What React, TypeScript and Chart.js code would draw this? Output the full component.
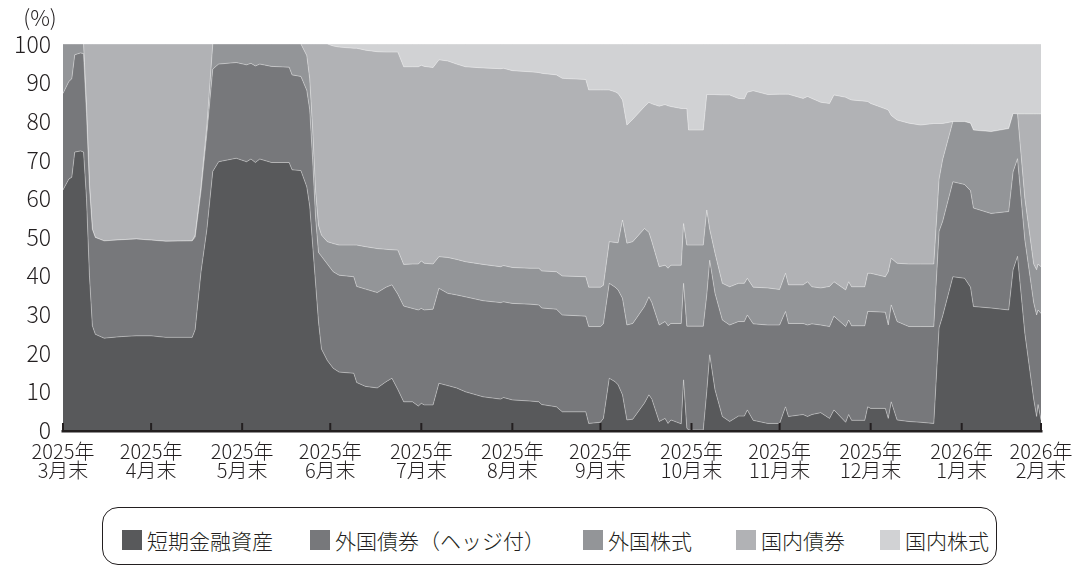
import React, { useEffect, useRef } from "react";
import { Chart, registerables } from "chart.js";

Chart.register(...registerables);

// day index: 0 = 2025-03-31, 333 = 2026-02-27
const days = [0,2,3,4,6,7,8,9,10,11,
  14,20,25,30,35,44,45,47,49,51,
  53,59,62.5,64,65.5,67,71,77,78,81,
  83,84,85,86,87,88,90,92,94,99,
  100,103,107,110,112,114,116,119,121,122,
  123,126,128,131,134,137,143,149,150,153,
  159,162,163,168,170,178,179,183,184,186,
  188,189,190.5,192,194,198,199.5,200.5,203,205,
  206,207,210.5,211.3,212.4,213,218,219.2,220.2,222,
  224.5,227,230,232,233,235,240,244,246,247,
  252,253.5,255,258,261,262.5,266.5,267.5,268.5,273,
  274,275,280,281,282,284,288,292,296.5,298.3,
  299.5,303,307,309,310,316,322,323.5,325,327.5,
  330.5,331.5,332,333];

const shortTerm = [62.2,65,65.5,72,72.3,72,60,40,27,24.8,
  23.8,24.2,24.4,24.4,24,24,26,41,52,67,
  69.5,70.4,69.5,70.2,69.3,70.2,69.3,69.3,67.4,67.2,
  63,58,48,38,28,21,18,16,15,14.7,
  12.3,11.3,10.9,12.5,13.4,10.5,7.3,7.3,6.2,6.9,
  6.5,6.5,12.1,11.5,10.9,9.9,8.6,8,8.4,7.8,
  7.5,7.3,6.6,6,4.7,4.7,1.7,2,3,13.4,
  12.5,11.7,9.1,2.6,2.8,7,9.1,8,2.2,3,
  1.7,2.6,1.6,13,0.5,0,0,10,19.5,10.4,
  3.5,2.2,3.6,3.6,5.2,2.5,1.7,1.7,6,3.5,
  4,3.5,4,4.5,3,5.2,2,4,2.5,2.5,
  6,5.6,5.6,3,7.3,2.6,2.2,2,1.7,26.5,
  29.5,39.7,39.3,37,32,31.6,31.1,41.5,45,25,
  8,3.5,6.6,2.6];

const foreignBondHedged = [25,25.3,25.5,25.2,25.4,25.5,22,23,25,25.1,
  25.2,25.1,25.1,24.8,24.9,25,24,21,25,26.5,
  25.3,24.8,25.1,24.8,25,24.6,24.9,24.7,24.6,24.4,
  25,25,22,17,18,24,25,25,25.1,25,
  24.9,25.2,24.7,24.5,24.2,24.7,24.8,24.2,24.9,24.6,
  24.6,24.8,24.6,23.9,24.1,24.6,24.9,25,24.8,25,
  25.1,25.1,25,25.3,25.1,24.8,25.1,24.8,24.5,24.6,
  24.5,24.6,25,24.6,24.8,25,25.4,25,25,25.1,
  25.3,25,26,25,26.4,26.9,26.9,25,24.5,25,
  25,25,24.5,24.5,24.6,25,25.5,25.5,24.7,24.1,
  23.6,23.7,23.5,22.7,23.8,24.3,24.8,24.5,24.5,24.5,
  24.7,25.1,24.9,24.2,25.1,25.5,24.6,24.8,25.1,25,
  24.5,24.6,24.3,25,25.5,24.5,25.5,25.4,25.3,24.2,
  25,26.3,24.5,27.6];

const foreignEquity = [12.8,9.7,9,2.8,2.3,2.5,2,1,0,0,
  0,0,0,0,0,0,0.5,1,2,6.5,
  5.2,4.8,5.4,5,5.7,5.2,5.8,6,8,8.4,
  9,8,8,7,7,5.5,5.8,7.3,7.8,8.2,
  10.7,11,11.4,9.8,9.1,11.4,10.8,11.5,11.9,12.3,
  12.1,11.7,8.2,9.3,9.2,9.1,9.4,9.3,9.4,9.3,
  9.3,9.5,9.6,9.7,10.1,10.2,10.2,10.2,10,10.8,
  11.6,12.2,20.3,21.2,21.2,20.2,16.7,15.8,15.1,14.6,
  14.9,15.1,15.1,15.5,21,21,21,22,8,10.4,
  9.5,9.9,9.9,9.9,9.5,9.5,9.6,9.2,9.9,10,
  10,11.2,9.6,9.6,10.4,8.9,9.5,9.9,10.1,10.1,
  9.9,9.9,9.2,13.8,12.1,15.1,16.2,16.2,16.2,13.5,
  16,15.6,16.3,17.5,20.2,21.2,21.5,15.1,11.6,10.8,
  10,11.7,11.9,12.1];

const domesticBond = [0,0,0,0,0,0,16,36,48,50.1,
  51,50.7,50.5,50.8,51.1,51,49.5,37,21,0,
  0,0,0,0,0,0,0,0,0,0,
  3,9,22,38,47,49.5,51.2,51.2,51.3,51,
  51,50.9,51,51.1,51.2,51.3,51.2,51.1,51.1,50.7,
  51,50.9,51,50.9,50.6,50.5,50.9,51.3,51.1,51,
  50.9,50.7,51.2,51,51.2,51.1,51.1,51.1,50.6,39.3,
  39,38.7,31.1,30.6,31.7,31.6,33.7,35.7,41.6,41.6,
  42.1,41.1,40.6,29.8,35.4,29.8,29.8,29.9,34.9,41.1,
  48.8,49.7,47.9,47.8,48.2,50.9,50.1,50.6,46.4,49.4,
  48.3,48,48.8,48.1,47.4,48.4,49.9,47.4,48.4,48.1,
  44.5,44,43.5,41.9,37,37.1,36.5,36,36.4,14.4,
  9.4,0,0,0,0,0,0,0,0,21.9,
  38.9,40.4,38.9,39.6];

const domesticEquity = [0,0,0,0,0,0,0,0,0,0,
  0,0,0,0,0,0,0,0,0,0,
  0,0,0,0,0,0,0,0,0,0,
  0,0,0,0,0,0,0,0.5,0.8,1.1,
  1.1,1.6,2,2.1,2.1,2.1,5.9,5.9,5.9,5.5,
  5.8,6.1,4.1,4.4,5.2,5.9,6.2,6.4,6.3,6.9,
  7.2,7.4,7.6,8,8.9,9.2,11.9,11.9,11.9,11.9,
  12.4,12.8,14.5,21,19.5,16.2,15.1,15.5,16.1,15.7,
  16,16.2,16.7,16.7,16.7,22.3,22.3,13.1,13.1,13.1,
  13.2,13.2,14.1,14.2,12.5,12.1,13.1,13,13,13,
  14.1,13.6,14.1,15.1,15.4,13.2,13.8,14.2,14.5,14.8,
  14.9,15.4,16.8,17.1,18.5,19.7,20.5,21,20.6,20.6,
  20.6,20.1,20.1,20.5,22.3,22.7,21.9,18,18.1,18.1,
  18.1,18.1,18.1,18.1];

const seriesNames = ["短期金融資産", "外国債券（ヘッジ付）", "外国株式", "国内債券", "国内株式"];
const seriesValues = [shortTerm, foreignBondHedged, foreignEquity, domesticBond, domesticEquity];
const seriesColors = ["#58595b", "#77787b", "#939598", "#b1b2b5", "#d1d2d4"];

const tickDays = [0, 30, 61, 91, 122, 153, 183, 214, 244, 275, 306, 333];
const tickYears = ["2025年", "2025年", "2025年", "2025年", "2025年", "2025年", "2025年", "2025年", "2025年", "2025年", "2026年", "2026年"];
const tickMonths = ["3月末", "4月末", "5月末", "6月末", "7月末", "8月末", "9月末", "10月末", "11月末", "12月末", "1月末", "2月末"];

const FONT = "'Noto Sans CJK JP', 'Noto Sans', sans-serif";
const INK = "#231f20";
const legendLeft = [122, 310, 583, 736, 880];

const axisPlugin = {
  id: "axisDecor",
  afterDatasetsDraw(chart: any) {
    const { ctx, chartArea, scales } = chart;
    const xs = scales.x;
    ctx.save();
    ctx.strokeStyle = INK;
    ctx.lineWidth = 2.5;
    ctx.beginPath();
    ctx.moveTo(chartArea.left - 1.5, chartArea.bottom + 1.2);
    ctx.lineTo(chartArea.right + 1.5, chartArea.bottom + 1.2);
    ctx.stroke();
    ctx.lineWidth = 2;
    tickDays.forEach((d) => {
      const px = xs.getPixelForValue(d);
      ctx.beginPath();
      ctx.moveTo(px, chartArea.bottom + 1);
      ctx.lineTo(px, chartArea.bottom - 7);
      ctx.stroke();
    });
    ctx.fillStyle = INK;
    ctx.font = `300 22px ${FONT}`;
    ctx.textAlign = "center";
    ctx.textBaseline = "middle";
    ctx.fillText("(%)", chartArea.left - 23, chartArea.top - 26);
    ctx.restore();
  },
};

export default function App() {
  const canvasRef = useRef<HTMLCanvasElement>(null);

  useEffect(() => {
    document.body.style.margin = "0";
    const datasets = seriesValues.map((vals, i) => ({
      label: seriesNames[i],
      data: days.map((d, j) => ({ x: d, y: vals[j] })),
      backgroundColor: seriesColors[i],
      borderColor: "rgba(255,255,255,0.45)",
      borderWidth: 0.8,
      pointRadius: 0,
      tension: 0,
      fill: i === 0 ? "origin" : "-1",
    }));
    const chart = new Chart(canvasRef.current as HTMLCanvasElement, {
      type: "line",
      data: { datasets } as any,
      options: {
        responsive: false,
        animation: false,
        layout: { padding: { left: 0, right: 36, top: 44, bottom: 0 } },
        plugins: { legend: { display: false }, tooltip: { enabled: false } },
        scales: {
          x: {
            type: "linear",
            min: 0,
            max: 333,
            grid: { display: false },
            border: { display: false },
            afterBuildTicks: (scale: any) => {
              scale.ticks = tickDays.map((v) => ({ value: v }));
            },
            afterFit: (scale: any) => {
              scale.height = 75;
            },
            ticks: {
              autoSkip: false,
              maxRotation: 0,
              minRotation: 0,
              padding: 4,
              color: INK,
              font: { size: 20, family: FONT, weight: "300", lineHeight: 0.95 },
              callback: (value: any) => {
                const i = tickDays.indexOf(Number(value));
                return i >= 0 ? [tickYears[i], tickMonths[i]] : "";
              },
            },
          },
          y: {
            stacked: true,
            min: 0,
            max: 100,
            grid: { display: false, drawTicks: false },
            border: { display: false },
            afterFit: (scale: any) => {
              scale.width = 63;
            },
            ticks: { stepSize: 10, padding: 12, color: INK, font: { size: 23, family: FONT, weight: "300" } },
          },
        },
      } as any,
      plugins: [axisPlugin],
    });
    return () => chart.destroy();
  }, []);

  return (
    <div style={{ position: "relative", width: 1077, height: 568, background: "#fff", fontFamily: FONT }}>
      <canvas ref={canvasRef} width={1077} height={505} style={{ display: "block", width: 1077, height: 505 }} />
      <div
        style={{
          position: "absolute",
          left: 102,
          top: 507,
          width: 895,
          height: 58,
          border: `1.3px solid ${INK}`,
          borderRadius: 16,
          boxSizing: "border-box",
        }}
      />
      {seriesNames.map((name, i) => (
        <div
          key={name}
          style={{
            position: "absolute",
            left: legendLeft[i],
            top: 526,
            height: 28,
            display: "flex",
            alignItems: "center",
            whiteSpace: "nowrap",
          }}
        >
          <span style={{ width: 20, height: 20, background: seriesColors[i], marginRight: 5, display: "inline-block" }} />
          <span style={{ fontSize: 21, fontWeight: 300, color: INK, lineHeight: "28px" }}>{name}</span>
        </div>
      ))}
    </div>
  );
}
